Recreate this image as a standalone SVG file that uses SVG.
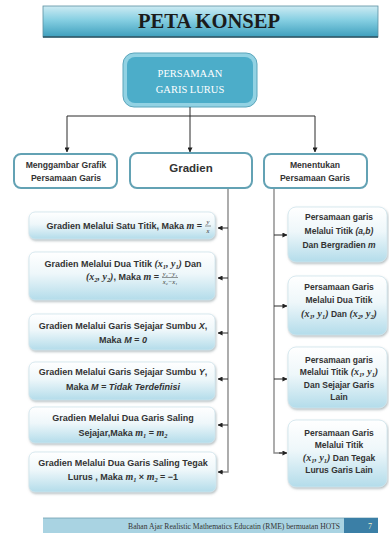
<svg xmlns="http://www.w3.org/2000/svg" width="389" height="536" viewBox="0 0 389 536">
<defs>
<linearGradient id="gTitle" x1="0" y1="0" x2="0" y2="1">
<stop offset="0" stop-color="#cdebf3"/>
<stop offset="0.45" stop-color="#86cfe2"/>
<stop offset="1" stop-color="#3e9fbd"/>
</linearGradient>
<linearGradient id="gBox" x1="0" y1="0" x2="0" y2="1">
<stop offset="0" stop-color="#ffffff"/>
<stop offset="0.45" stop-color="#eef7fa"/>
<stop offset="1" stop-color="#b3dcea"/>
</linearGradient>
<filter id="sh" x="-10%" y="-10%" width="120%" height="130%">
<feDropShadow dx="0.8" dy="1.5" stdDeviation="1" flood-color="#7a8a90" flood-opacity="0.55"/>
</filter>
<marker id="ah" viewBox="0 0 6 6" refX="5.5" refY="3" markerWidth="5" markerHeight="5" markerUnits="userSpaceOnUse" orient="auto">
<path d="M0,0 L6,3 L0,6 z" fill="#222"/>
</marker>
</defs>
<style>
.lbl{font-family:"Liberation Sans",Arial,sans-serif;font-weight:bold;fill:#333;text-anchor:middle}
.end{text-anchor:end}
.s{font-size:9px}
.r{font-size:8.5px}
.mth{font-family:"Liberation Serif","Times New Roman",serif;font-style:italic;font-weight:bold;font-size:10px}
.sb{font-family:"Liberation Serif","Times New Roman",serif;font-style:italic;font-weight:bold;font-size:6.4px}
.it{font-style:italic}
.gb{fill:url(#gBox);stroke:#cfe5ec;stroke-width:0.8;filter:url(#sh)}
.wb{fill:#ffffff;stroke:#63a2b4;stroke-width:2}
.con{fill:none;stroke:#2a2a2a;stroke-width:1}
.gl{fill:none;stroke:#8a8a8a;stroke-width:1.4}
.fr{font-family:"Liberation Serif","Times New Roman",serif;font-style:italic;font-size:6.5px;fill:#333;text-anchor:middle}
</style>

<g id="title">
<rect x="43" y="6" width="335" height="31" fill="url(#gTitle)" stroke="#5b8fa0" stroke-width="0.8"/>
<line x1="43" y1="37" x2="378" y2="37" stroke="#2c5563" stroke-width="1.5"/>
<text x="209" y="28" font-family="'Liberation Serif','Times New Roman',serif" font-weight="bold" font-size="21" fill="#1b1b1b" text-anchor="middle" textLength="142" lengthAdjust="spacingAndGlyphs">PETA KONSEP</text>
</g>

<g id="root">
<rect x="123" y="53" width="134" height="54" rx="11" fill="#92d2e3" stroke="#5aa5bb" stroke-width="1"/>
<rect x="127" y="57" width="126" height="46" rx="8" fill="#4cadc9"/>
<text x="190" y="77" font-family="'Liberation Serif','Times New Roman',serif" font-size="10.5" fill="#ffffff" text-anchor="middle">PERSAMAAN</text>
<text x="190" y="93" font-family="'Liberation Serif','Times New Roman',serif" font-size="10.5" fill="#ffffff" text-anchor="middle">GARIS LURUS</text>
</g>

<g id="connectors">
<path class="con" d="M190,107 V116"/>
<path class="con" d="M67,116 H315"/>
<path class="con" d="M67,116 V152" marker-end="url(#ah)"/>
<path class="con" d="M190,116 V152" marker-end="url(#ah)"/>
<path class="con" d="M315,116 V152" marker-end="url(#ah)"/>
<path class="gl" d="M228,189 V472 H220"/>
<path class="con" d="M223,472 H218" marker-end="url(#ah)"/>
<path class="con" d="M228,228 H218" marker-end="url(#ah)"/>
<path class="con" d="M228,278 H218" marker-end="url(#ah)"/>
<path class="con" d="M228,333 H218" marker-end="url(#ah)"/>
<path class="con" d="M228,379 H218" marker-end="url(#ah)"/>
<path class="con" d="M228,425 H218" marker-end="url(#ah)"/>
<path class="gl" d="M274,189 V453 H282"/>
<path class="con" d="M279,453 H287" marker-end="url(#ah)"/>
<path class="con" d="M274,235 H287" marker-end="url(#ah)"/>
<path class="con" d="M274,306 H287" marker-end="url(#ah)"/>
<path class="con" d="M274,379 H287" marker-end="url(#ah)"/>
</g>

<g id="menggambar">
<rect class="wb" x="14" y="154" width="103" height="34" rx="7"/>
<text class="lbl" x="66" y="168" font-size="8.6">Menggambar Grafik</text>
<text class="lbl" x="66" y="181" font-size="8.6">Persamaan Garis</text>
</g>

<g id="gradien">
<rect class="wb" x="130" y="153" width="122" height="35" rx="7"/>
<text class="lbl" x="191" y="172" font-size="11.5">Gradien</text>
</g>

<g id="menentukan">
<rect class="wb" x="264" y="154" width="103" height="34" rx="7"/>
<text class="lbl" x="315" y="168" font-size="8.6">Menentukan</text>
<text class="lbl" x="315" y="181" font-size="8.6">Persamaan Garis</text>
</g>

<g id="g1">
<rect class="gb" x="29" y="212" width="186" height="27" rx="6"/>
<text class="lbl s end" x="202" y="229">Gradien Melalui Satu Titik, Maka <tspan class="mth">m</tspan> =</text>
<text class="fr" x="208" y="224">y</text>
<line x1="205" y1="226" x2="211" y2="226" stroke="#333" stroke-width="0.5"/>
<text class="fr" x="208" y="232.5">x</text>
</g>

<g id="g2">
<rect class="gb" x="29" y="252" width="186" height="48" rx="6"/>
<text class="lbl s" x="123" y="267">Gradien Melalui Dua Titik  <tspan class="mth">(x</tspan><tspan class="sb" dy="1.5">1</tspan><tspan class="mth" dy="-1.5">, y</tspan><tspan class="sb" dy="1.5">1</tspan><tspan class="mth" dy="-1.5">)</tspan> Dan</text>
<text class="lbl s end" x="159" y="280"><tspan class="mth">(x</tspan><tspan class="sb" dy="1.5">2</tspan><tspan class="mth" dy="-1.5">, y</tspan><tspan class="sb" dy="1.5">2</tspan><tspan class="mth" dy="-1.5">)</tspan>, Maka  <tspan class="mth">m</tspan> =</text>
<text class="fr" x="170" y="276">y₂−y₁</text>
<line x1="162" y1="277.5" x2="178" y2="277.5" stroke="#333" stroke-width="0.5"/>
<text class="fr" x="170" y="284">x₂−x₁</text>
</g>

<g id="g3">
<rect class="gb" x="29" y="314" width="186" height="36" rx="6"/>
<text class="lbl s" x="123" y="329">Gradien Melalui Garis Sejajar Sumbu <tspan class="it">X</tspan>,</text>
<text class="lbl s" x="123" y="343">Maka <tspan class="it">M = 0</tspan></text>
</g>

<g id="g4">
<rect class="gb" x="29" y="362" width="186" height="38" rx="6"/>
<text class="lbl s" x="123" y="375">Gradien Melalui Garis Sejajar Sumbu <tspan class="it">Y</tspan>,</text>
<text class="lbl s" x="123" y="390">Maka <tspan class="it">M = Tidak Terdefinisi</tspan></text>
</g>

<g id="g5">
<rect class="gb" x="29" y="407" width="186" height="36" rx="6"/>
<text class="lbl s" x="123" y="421">Gradien Melalui Dua Garis Saling</text>
<text class="lbl s" x="123" y="436">Sejajar,Maka <tspan class="mth">m</tspan><tspan class="sb" dy="1.5">1</tspan><tspan dy="-1.5"> = </tspan><tspan class="mth">m</tspan><tspan class="sb" dy="1.5">2</tspan></text>
</g>

<g id="g6">
<rect class="gb" x="29" y="452" width="187" height="40" rx="6"/>
<text class="lbl s" x="123" y="466">Gradien Melalui Dua Garis Saling Tegak</text>
<text class="lbl s" x="123" y="480">Lurus , Maka <tspan class="mth">m</tspan><tspan class="sb" dy="1.5">1</tspan><tspan dy="-1.5"> × </tspan><tspan class="mth">m</tspan><tspan class="sb" dy="1.5">2</tspan><tspan dy="-1.5"> = −1</tspan></text>
</g>

<g id="p1">
<rect class="gb" x="288" y="207" width="99" height="55" rx="8"/>
<text class="lbl r" x="339" y="220">Persamaan garis</text>
<text class="lbl r" x="339" y="234">Melalui Titik <tspan class="it">(a,b)</tspan></text>
<text class="lbl r" x="339" y="248">Dan Bergradien <tspan class="it">m</tspan></text>
</g>

<g id="p2">
<rect class="gb" x="288" y="276" width="99" height="59" rx="8"/>
<text class="lbl r" x="339" y="290">Persamaan Garis</text>
<text class="lbl r" x="339" y="303">Melalui Dua Titik</text>
<text class="lbl r" x="339" y="317"><tspan class="mth">(x</tspan><tspan class="sb" dy="1.5">1</tspan><tspan class="mth" dy="-1.5">, y</tspan><tspan class="sb" dy="1.5">1</tspan><tspan class="mth" dy="-1.5">)</tspan> Dan <tspan class="mth">(x</tspan><tspan class="sb" dy="1.5">2</tspan><tspan class="mth" dy="-1.5">, y</tspan><tspan class="sb" dy="1.5">2</tspan><tspan class="mth" dy="-1.5">)</tspan></text>
</g>

<g id="p3">
<rect class="gb" x="288" y="347" width="99" height="61" rx="8"/>
<text class="lbl r" x="339" y="363">Persamaan garis</text>
<text class="lbl r" x="339" y="375">Melalui Titik <tspan class="mth">(x</tspan><tspan class="sb" dy="1.5">1</tspan><tspan class="mth" dy="-1.5">, y</tspan><tspan class="sb" dy="1.5">1</tspan><tspan class="mth" dy="-1.5">)</tspan></text>
<text class="lbl r" x="339" y="388">Dan Sejajar Garis</text>
<text class="lbl r" x="339" y="400">Lain</text>
</g>

<g id="p4">
<rect class="gb" x="288" y="420" width="99" height="67" rx="8"/>
<text class="lbl r" x="339" y="436">Persamaan Garis</text>
<text class="lbl r" x="339" y="448">Melalui Titik</text>
<text class="lbl r" x="339" y="461"><tspan class="mth">(x</tspan><tspan class="sb" dy="1.5">1</tspan><tspan class="mth" dy="-1.5">, y</tspan><tspan class="sb" dy="1.5">1</tspan><tspan class="mth" dy="-1.5">)</tspan> Dan Tegak</text>
<text class="lbl r" x="339" y="473">Lurus Garis Lain</text>
</g>

<g id="footer">
<rect x="43" y="518" width="335" height="15" fill="#a9d3e2"/>
<line x1="43" y1="518" x2="378" y2="518" stroke="#6f9fb0" stroke-width="0.8"/>
<rect x="344" y="518" width="34" height="15" fill="#3b7fa6"/>
<text x="340" y="529" font-family="'Liberation Serif','Times New Roman',serif" font-size="7.6" fill="#333" text-anchor="end">Bahan Ajar Realistic Mathematics Educatin (RME) bermuatan HOTS</text>
<text x="370" y="529" font-family="'Liberation Serif','Times New Roman',serif" font-size="8" fill="#f4f0c8" text-anchor="middle">7</text>
</g>
</svg>
